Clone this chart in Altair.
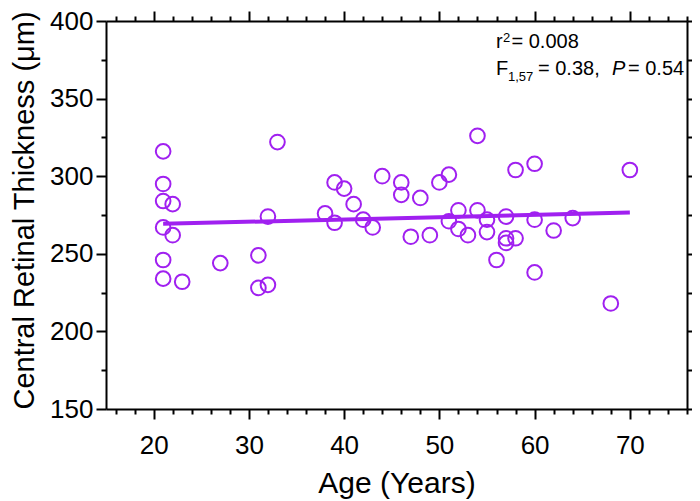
import altair as alt
import pandas as pd

# --- data ---
ages = [21, 21, 21, 22, 21, 22, 21, 21, 23, 27, 31, 31, 32, 32, 33, 39, 40, 38, 39,
        41, 42, 43, 44, 46, 46, 47, 48, 49, 50, 51, 51, 52, 52, 53, 54, 54, 55, 55, 56,
        57, 57, 57, 58, 58, 60, 60, 60, 62, 64, 68, 70]
thickness = [316, 295, 284, 282, 267, 262, 246, 234, 232, 244, 249, 228, 230, 274, 322, 296, 292, 276, 270,
             282, 272, 267, 300, 296, 288, 261, 286, 262, 296, 301, 271, 278, 266, 262, 326, 278, 272, 264, 246,
             274, 260, 257, 260, 304, 308, 272, 238, 265, 273, 218, 304]
fit_ages = [21, 70]
fit_thickness = [269.3, 276.6]

x_ticks = list(range(16, 77, 2))
y_ticks = list(range(150, 401, 25))

stat_r = "r"
stat_r_sup = "2"
stat_r_val = "= 0.008"
stat_f = "F"
stat_f_sub = "1,57"
stat_f_val = "= 0.38,"
stat_p = "P"
stat_p_val = "= 0.54"

COLOR = "#A020F0"
FONT = "Liberation Sans"

pts = pd.DataFrame({"age": ages, "crt": thickness})
fit = pd.DataFrame({"age": fit_ages, "crt": fit_thickness})

xscale = alt.Scale(domain=[15, 76], nice=False, zero=False)
yscale = alt.Scale(domain=[150, 400], nice=False, zero=False)

x_major_size = {"condition": {"test": "datum.value % 10 === 0", "value": 10}, "value": 5}
y_major_size = {"condition": {"test": "datum.value % 50 === 0", "value": 10}, "value": 5}

common = dict(grid=False, domainColor="black", domainWidth=2, tickColor="black", tickWidth=2,
              labelFont=FONT, titleFont=FONT, labelColor="black", titleColor="black")

x_bottom = alt.Axis(orient="bottom", values=x_ticks, tickSize=x_major_size,
                    labelExpr="datum.value % 10 === 0 && datum.value <= 70 ? datum.label : ''",
                    labelFontSize=26, labelPadding=13, title="Age (Years)", titleFontSize=30,
                    titleFontWeight="normal", titleBaseline="alphabetic", titleY=83, **common)
y_left = alt.Axis(orient="left", values=y_ticks, tickSize=y_major_size,
                  labelExpr="datum.value % 50 === 0 ? datum.label : ''",
                  labelFontSize=26, labelPadding=3, title="Central Retinal Thickness (μm)",
                  titleFontSize=29, titleFontWeight="normal", titleBaseline="alphabetic",
                  titleLimit=600, titleX=-73, titleY=189, **common)
x_top = alt.Axis(orient="top", values=x_ticks, tickSize=x_major_size, labels=False, title=None, **common)
y_right = alt.Axis(orient="right", values=y_ticks, tickSize=y_major_size, labels=False, title=None, **common)

points = alt.Chart(pts).mark_point(shape="circle", filled=False, size=215, strokeWidth=2, color=COLOR,
                                   opacity=1).encode(
    x=alt.X("age:Q", scale=xscale, axis=x_bottom),
    y=alt.Y("crt:Q", scale=yscale, axis=y_left),
)

line = alt.Chart(fit).mark_line(color=COLOR, strokeWidth=4).encode(
    x=alt.X("age:Q", scale=xscale, axis=x_top),
    y=alt.Y("crt:Q", scale=yscale, axis=y_right),
)


def label(txt, x, y, size, style="normal"):
    return alt.Chart(pd.DataFrame({"t": [txt]})).mark_text(
        align="left", baseline="alphabetic", font=FONT, fontSize=size, fontStyle=style, color="black"
    ).encode(x=alt.value(x), y=alt.value(y), text="t:N")


texts = [
    label(stat_r, 390, 27, 20),
    label(stat_r_sup, 397, 21, 13),
    label(stat_r_val, 405.5, 27, 20),
    label(stat_f, 390, 54, 20),
    label(stat_f_sub, 402, 60, 13),
    label(stat_f_val, 432, 54, 20),
    label(stat_p, 506, 54, 20, "italic"),
    label(stat_p_val, 522, 54, 20),
]

chart = alt.layer(points, line, *texts).resolve_axis(x="independent", y="independent").properties(
    width=581, height=388,
    padding={"left": 98, "top": 13, "right": 5, "bottom": 90},
    autosize="none",
).configure_view(stroke=None).configure(background="white")

chart.save("out.html", embed_options={"renderer": "svg", "actions": False})
